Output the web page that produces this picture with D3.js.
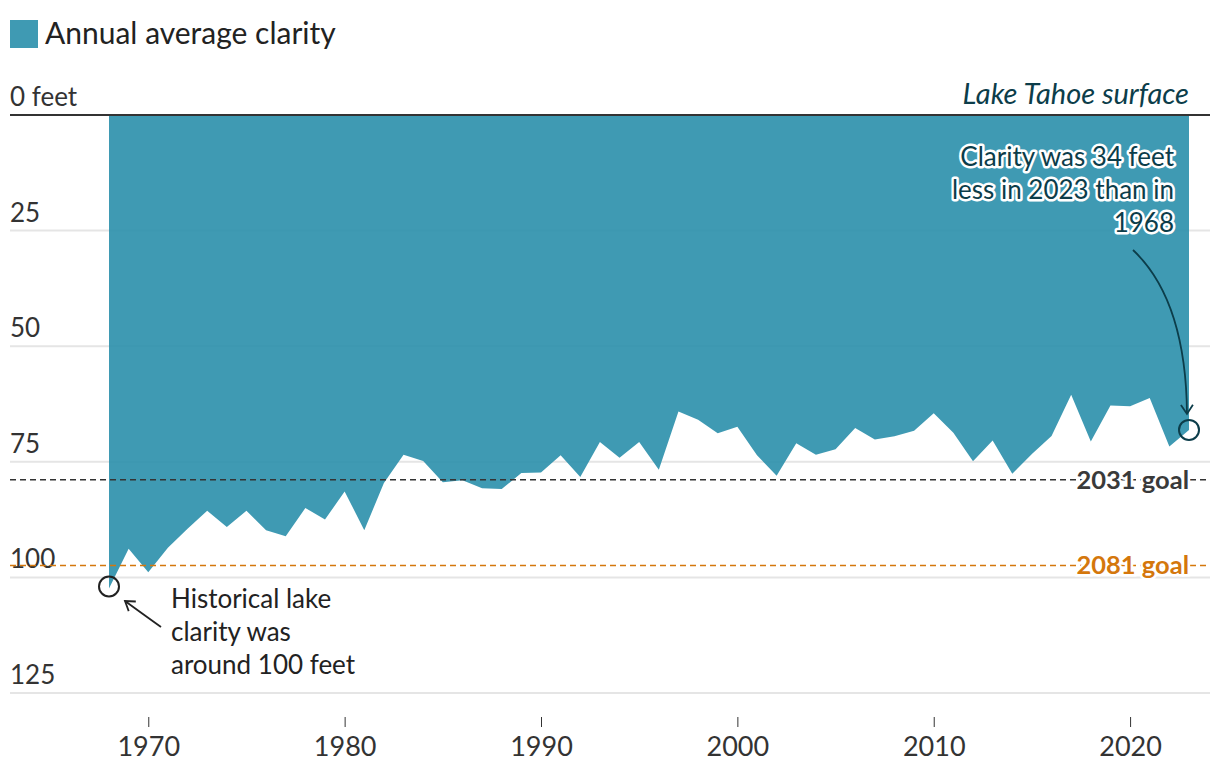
<!DOCTYPE html>
<html>
<head>
  <meta charset="utf-8">
  <script src="https://d3js.org/d3.v7.min.js"></script>
  <style>
    body { margin: 0; background: #fff; }
    svg { font-family: Lato, "Noto Sans", sans-serif; }
  </style>
</head>
<body>
<script>
  // annual average Secchi depth, feet
  var years = d3.range(1968, 2024);
  var clarity = [102.4, 93.8, 98.9, 93.6, 89.5, 85.6, 89.1, 85.6, 89.8, 91.1,
                 85.0, 87.5, 81.4, 89.8, 79.6, 73.5, 74.8, 79.4, 79.0, 80.7,
                 80.9, 77.4, 77.3, 73.6, 78.3, 70.7, 74.1, 70.7, 76.7, 64.1,
                 65.9, 68.8, 67.4, 73.6, 78.0, 71.0, 73.5, 72.3, 67.7, 70.2,
                 69.5, 68.3, 64.5, 68.7, 74.9, 70.4, 77.6, 73.3, 69.4, 60.5,
                 70.6, 62.8, 63.0, 61.2, 71.7, 68.1];
  var yTicks = [25, 50, 75, 100, 125];
  var xTicks = [1970, 1980, 1990, 2000, 2010, 2020];
  var goals = [{label: "2031 goal", value: 78.9, color: "#333333", text: "#3a3a3a"},
               {label: "2081 goal", value: 97.4, color: "#d4770c", text: "#d4770c"}];

  var W = 1220, H = 780;
  var teal = "#2a8fab", ink = "#0c3d4a";

  var svg = d3.select("body").append("svg")
      .attr("width", W).attr("height", H);

  var x = d3.scaleLinear().domain([1968, 2023]).range([109, 1189]);
  var y = d3.scaleLinear().domain([0, 125]).range([115, 693]);

  var data = years.map(function(yr, i) { return {year: yr, v: clarity[i]}; });

  // legend
  svg.append("rect").attr("x", 10).attr("y", 20).attr("width", 28).attr("height", 28)
    .attr("fill", teal).attr("fill-opacity", 0.9);
  svg.append("text").attr("x", 45).attr("y", 44)
    .attr("font-size", 30).attr("fill", "#222").text("Annual average clarity");

  // gridlines
  svg.append("g").selectAll("line").data(yTicks).join("line")
    .attr("x1", 10).attr("x2", 1210)
    .attr("y1", function(d) { return y(d); }).attr("y2", function(d) { return y(d); })
    .attr("stroke", "#e5e5e5").attr("stroke-width", 2);

  svg.append("g").selectAll("text").data(yTicks).join("text")
    .attr("x", 10).attr("y", function(d) { return y(d) - 9; })
    .attr("font-size", 26).attr("fill", "#333").text(function(d) { return d; });

  // area from the surface down to the clarity depth
  var area = d3.area()
    .x(function(d) { return x(d.year); })
    .y0(y(0))
    .y1(function(d) { return y(d.v); });

  svg.append("path").datum(data)
    .attr("d", area)
    .attr("fill", teal).attr("fill-opacity", 0.9);

  // surface line
  svg.append("line").attr("x1", 10).attr("x2", 1210)
    .attr("y1", y(0)).attr("y2", y(0))
    .attr("stroke", "#333").attr("stroke-width", 2);
  svg.append("text").attr("x", 10).attr("y", y(0) - 9)
    .attr("font-size", 26).attr("fill", "#333").text("0 feet");
  svg.append("text").attr("x", 1189).attr("y", y(0) - 11)
    .attr("text-anchor", "end").attr("font-style", "italic")
    .attr("font-size", 29).attr("fill", ink).text("Lake Tahoe surface");

  // goal lines
  var g = svg.append("g").selectAll("g").data(goals).join("g");
  g.append("line").attr("x1", 10).attr("x2", 1210)
    .attr("y1", function(d) { return y(d.value); }).attr("y2", function(d) { return y(d.value); })
    .attr("stroke", function(d) { return d.color; })
    .attr("stroke-width", 1.5).attr("stroke-dasharray", "6,4");
  g.append("text").attr("x", 1189).attr("y", function(d) { return y(d.value) + 9; })
    .attr("text-anchor", "end").attr("font-weight", "bold").attr("font-size", 25.5)
    .attr("fill", function(d) { return d.text; })
    .attr("stroke", "#fff").attr("stroke-width", 5).attr("paint-order", "stroke")
    .text(function(d) { return d.label; });

  // x axis
  var xAxis = svg.append("g").attr("transform", "translate(0,717)")
    .call(d3.axisBottom(x).tickValues(xTicks).tickFormat(d3.format("d")).tickSize(10).tickPadding(10));
  xAxis.select(".domain").remove();
  xAxis.selectAll("line").attr("stroke", "#333");
  xAxis.selectAll("text").attr("font-size", 27).attr("fill", "#333")
    .attr("font-family", "Lato, sans-serif");

  // arrow markers
  var defs = svg.append("defs");
  [["arrDark", ink], ["arrBlack", "#222"]].forEach(function(m) {
    defs.append("marker").attr("id", m[0])
      .attr("viewBox", "-10 -8 12 16").attr("refX", 0).attr("refY", 0)
      .attr("markerWidth", 12).attr("markerHeight", 16)
      .attr("markerUnits", "userSpaceOnUse").attr("orient", "auto")
      .append("path").attr("d", "M-9,-6L0,0L-9,6")
      .attr("fill", "none").attr("stroke", m[1]).attr("stroke-width", 1.8);
  });

  // 2023 annotation
  var last = data[data.length - 1], first = data[0];
  svg.append("circle").attr("cx", x(last.year)).attr("cy", y(last.v)).attr("r", 10)
    .attr("fill", "none").attr("stroke", ink).attr("stroke-width", 2);
  svg.append("path")
    .attr("d", "M1133,250 Q1186,300 1187," + (y(last.v) - 16))
    .attr("fill", "none").attr("stroke", ink).attr("stroke-width", 1.8)
    .attr("marker-end", "url(#arrDark)");
  var note1 = svg.append("text").attr("text-anchor", "end").attr("font-size", 26)
    .attr("fill", ink).attr("stroke", "#fff").attr("stroke-width", 5)
    .attr("stroke-linejoin", "round").attr("paint-order", "stroke");
  ["Clarity was 34 feet", "less in 2023 than in", "1968"].forEach(function(t, i) {
    note1.append("tspan").attr("x", 1174).attr("y", 166 + i * 33).text(t);
  });

  // 1968 annotation
  svg.append("circle").attr("cx", x(first.year)).attr("cy", y(first.v) - 2).attr("r", 10)
    .attr("fill", "none").attr("stroke", "#222").attr("stroke-width", 2);
  svg.append("path")
    .attr("d", "M161,627 Q140,612 125,601")
    .attr("fill", "none").attr("stroke", "#222").attr("stroke-width", 1.8)
    .attr("marker-end", "url(#arrBlack)");
  var note2 = svg.append("text").attr("font-size", 26).attr("fill", "#222");
  ["Historical lake", "clarity was", "around 100 feet"].forEach(function(t, i) {
    note2.append("tspan").attr("x", 171).attr("y", 608 + i * 33).text(t);
  });
</script>
</body>
</html>
